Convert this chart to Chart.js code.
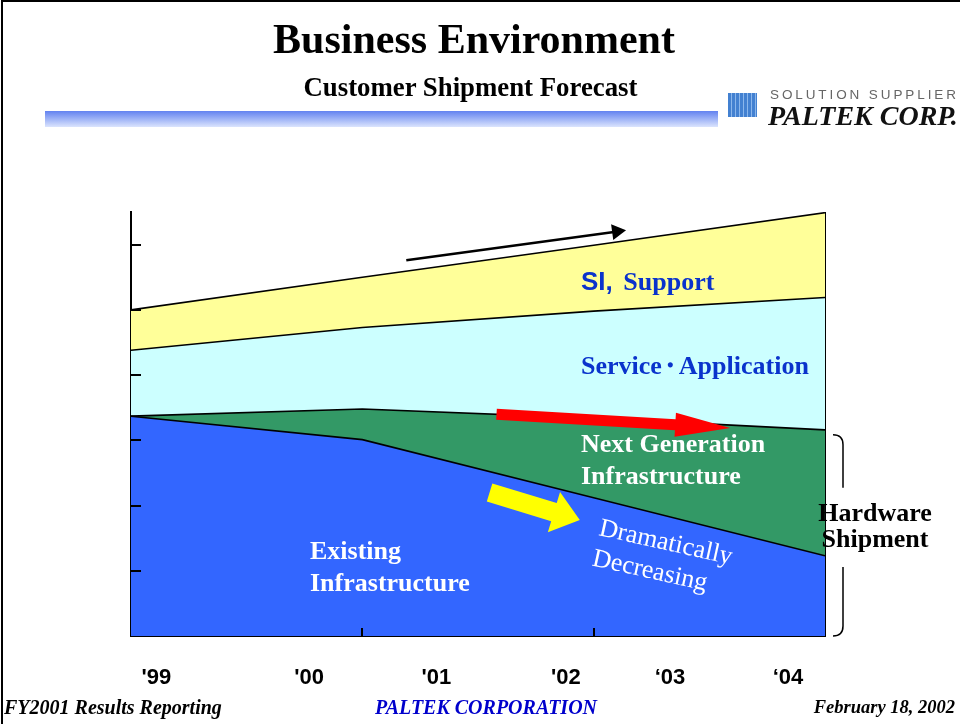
<!DOCTYPE html>
<html>
<head>
<meta charset="utf-8">
<script src="https://cdn.jsdelivr.net/npm/chart.js@4"></script>
<style>
  html, body { margin: 0; padding: 0; background: #fff; }
  #slide { position: relative; width: 960px; height: 724px; overflow: hidden; font-family: "Liberation Serif", "Times New Roman", serif; }
  #frame { position: absolute; left: 1px; top: 0; width: 970px; height: 730px; border-left: 2px solid #000; border-top: 2px solid #000; }
  #chart { position: absolute; left: 0; top: 0; }
  .t { position: absolute; white-space: nowrap; font-weight: bold; line-height: 1; }
  .sans { font-family: "Liberation Sans", Arial, sans-serif; }
  .blue { color: #0a33cc; font-size: 26px; }
  .white { color: #fff; font-size: 26px; line-height: 32px; }
  .foot { font-style: italic; font-size: 20px; }
  #bar { position: absolute; left: 45px; top: 111px; width: 673px; height: 16px; background: linear-gradient(to bottom, #6282f0, #dbe4fd); }
  #icon { position: absolute; left: 728px; top: 93px; width: 29px; height: 24px;
          background: repeating-linear-gradient(90deg, #2f74cc 0 3px, #7fb0ea 3px 4px), #3b7fd4; opacity: 0.9; }
</style>
</head>
<body>
<div id="slide">
  <canvas id="chart" width="960" height="724"></canvas>
  <div id="frame"></div>

  <div class="t" style="left:0;width:948px;text-align:center;top:18px;font-size:42px;">Business Environment</div>
  <div class="t" style="left:0;width:941px;text-align:center;top:74px;font-size:26.8px;">Customer Shipment Forecast</div>
  <div id="bar"></div>
  <div id="icon"></div>
  <div class="t sans" style="left:770px;top:88px;font-size:13.5px;font-weight:normal;letter-spacing:2.9px;color:#666;">SOLUTION SUPPLIER</div>
  <div class="t" style="left:768px;top:102px;font-size:28px;font-style:italic;color:#111;">PALTEK CORP.</div>

  <div class="t blue" style="left:581px;top:268px;"><span class="sans">SI,</span> <span style="padding-left:4px;">Support</span></div>
  <div class="t blue" style="left:581px;top:353px;">Service<span style="margin:0 -4.5px;">・</span>Application</div>
  <div class="t white" style="left:581px;top:428px;">Next Generation<br>Infrastructure</div>
  <div class="t white" style="left:310px;top:535px;">Existing<br>Infrastructure</div>
  <div class="t" style="left:598px;top:511px;font-size:26px;line-height:31px;font-weight:normal;color:#fff;transform-origin:0 24px;transform:rotate(12.5deg);">Dramatically<br>Decreasing</div>
  <div class="t" style="left:814px;width:122px;text-align:center;top:500px;font-size:26px;line-height:26px;color:#000;">Hardware<br>Shipment</div>

  <div class="t foot" style="left:4px;top:697px;">FY2001 Results Reporting</div>
  <div class="t foot" style="left:0;width:972px;text-align:center;top:697px;color:#0000cc;">PALTEK CORPORATION</div>
  <div class="t foot" style="right:5px;top:698px;font-size:18.5px;">February 18, 2002</div>
</div>

<script>
// x positions of the four forecast points on the axis (0 = '99 start, 3 = '04 end)
const stages = [0, 1, 2, 3];
// year labels and where they sit along that same 0-3 axis
const yearLabels = ["'99", "'00", "'01", "'02", "\u201803", "\u201804"];
const yearAt = [0.11, 0.77, 1.32, 1.88, 2.33, 2.84];

// stacked series, bottom to top
const existingInfra = [3.37, 3.01, 2.12, 1.23];
const nextGenInfra  = [0.00, 0.47, 1.22, 1.93];
const serviceApp    = [1.01, 1.25, 1.64, 2.03];
const siSupport     = [0.62, 0.77, 1.01, 1.30];

const yMax = 6.5;
const yStep = 1;

// decoration arrows, in data units [x, y]
const arrows = [
  { from: [1.19, 5.76], to: [2.14, 6.22], color: '#000000', shaft: 2.5, headL: 14, headW: 16 },
  { from: [1.58, 3.40], to: [2.59, 3.19], color: '#ff0000', shaft: 11, headL: 55, headW: 24 },
  { from: [1.55, 2.20], to: [1.94, 1.78], color: '#ffff00', shaft: 19, headL: 27, headW: 42 },
];

function series(values) {
  return stages.map((s, i) => ({ x: s, y: values[i] }));
}

function drawArrow(ctx, x0, y0, x1, y1, a) {
  const ang = Math.atan2(y1 - y0, x1 - x0);
  const len = Math.hypot(x1 - x0, y1 - y0);
  ctx.save();
  ctx.translate(x0, y0);
  ctx.rotate(ang);
  ctx.fillStyle = a.color;
  ctx.beginPath();
  ctx.moveTo(0, -a.shaft / 2);
  ctx.lineTo(len - a.headL, -a.shaft / 2);
  ctx.lineTo(len - a.headL, -a.headW / 2);
  ctx.lineTo(len, 0);
  ctx.lineTo(len - a.headL, a.headW / 2);
  ctx.lineTo(len - a.headL, a.shaft / 2);
  ctx.lineTo(0, a.shaft / 2);
  ctx.closePath();
  ctx.fill();
  ctx.restore();
}

const decorations = {
  id: 'decorations',
  afterDatasetsDraw(chart) {
    const { ctx, scales } = chart;
    arrows.forEach(a => {
      drawArrow(ctx,
        scales.x.getPixelForValue(a.from[0]), scales.y.getPixelForValue(a.from[1]),
        scales.x.getPixelForValue(a.to[0]), scales.y.getPixelForValue(a.to[1]), a);
    });
  },
  afterDraw(chart) {
    const { ctx, chartArea, scales } = chart;
    ctx.save();
    ctx.strokeStyle = '#000';
    ctx.lineWidth = 2;
    // inward ticks
    scales.y.ticks.forEach(t => {
      if (t.value <= 0 || t.value >= yMax) return;
      const py = Math.round(scales.y.getPixelForValue(t.value));
      ctx.beginPath(); ctx.moveTo(chartArea.left, py); ctx.lineTo(chartArea.left + 10, py); ctx.stroke();
    });
    scales.x.ticks.forEach(t => {
      if (t.value <= stages[0] || t.value >= stages[stages.length - 1]) return;
      const px = Math.round(scales.x.getPixelForValue(t.value));
      ctx.beginPath(); ctx.moveTo(px, chartArea.bottom); ctx.lineTo(px, chartArea.bottom - 8); ctx.stroke();
    });
    // bracket for hardware shipment
    const last = stages.length - 1;
    const top = scales.y.getPixelForValue(existingInfra[last] + nextGenInfra[last]) + 5;
    const bot = chartArea.bottom;
    const x0 = chartArea.right + 8, x1 = chartArea.right + 18;
    ctx.lineWidth = 1.5;
    ctx.beginPath();
    ctx.moveTo(x0, top);
    ctx.quadraticCurveTo(x1, top, x1, top + 10);
    ctx.lineTo(x1, top + 53);
    ctx.moveTo(x1, bot - 69);
    ctx.lineTo(x1, bot - 10);
    ctx.quadraticCurveTo(x1, bot, x0, bot);
    ctx.stroke();
    ctx.restore();
  }
};

const lineStyle = { borderColor: '#000', borderWidth: 1.6, pointRadius: 0, tension: 0 };

new Chart(document.getElementById('chart'), {
  type: 'line',
  data: {
    datasets: [
      { label: 'Existing Infrastructure', data: series(existingInfra), backgroundColor: '#3366ff', fill: 'origin', ...lineStyle },
      { label: 'Next Generation Infrastructure', data: series(nextGenInfra), backgroundColor: '#339966', fill: '-1', ...lineStyle },
      { label: 'Service・Application', data: series(serviceApp), backgroundColor: '#ccffff', fill: '-1', ...lineStyle },
      { label: 'SI, Support', data: series(siSupport), backgroundColor: '#ffff99', fill: '-1', ...lineStyle },
    ]
  },
  options: {
    responsive: false,
    animation: false,
    layout: { padding: { left: 131, right: 135, top: 212, bottom: 0 } },
    plugins: { legend: { display: false }, tooltip: { enabled: false } },
    scales: {
      x: {
        type: 'linear', position: 'bottom', weight: 0,
        min: stages[0], max: stages[stages.length - 1],
        ticks: { display: false, stepSize: 1 },
        grid: { display: false, drawTicks: false },
        border: { display: true, color: '#000', width: 2 },
        afterFit: s => { s.height = 0; }
      },
      xl: {
        type: 'linear', position: 'bottom', weight: 1,
        min: stages[0], max: stages[stages.length - 1],
        afterBuildTicks: s => { s.ticks = yearAt.map(v => ({ value: v })); },
        ticks: {
          autoSkip: false, maxRotation: 0, padding: 29, color: '#000',
          font: { family: '"Liberation Sans", Arial, sans-serif', size: 22, weight: 'bold' },
          callback: (v, i) => yearLabels[i]
        },
        grid: { display: false, drawTicks: false },
        border: { display: false },
        afterFit: s => { s.height = 88; }
      },
      y: {
        stacked: true, min: 0, max: yMax,
        ticks: { display: false, stepSize: yStep, includeBounds: false },
        grid: { display: false, drawTicks: false },
        border: { display: true, color: '#000', width: 2 },
        afterFit: s => { s.width = 0; }
      },
      y2: {
        position: 'right', min: 0, max: yMax,
        ticks: { display: false },
        grid: { display: false, drawTicks: false },
        border: { display: true, color: '#000', width: 1 },
        afterFit: s => { s.width = 0; }
      }
    }
  },
  plugins: [decorations]
});
</script>
</body>
</html>
